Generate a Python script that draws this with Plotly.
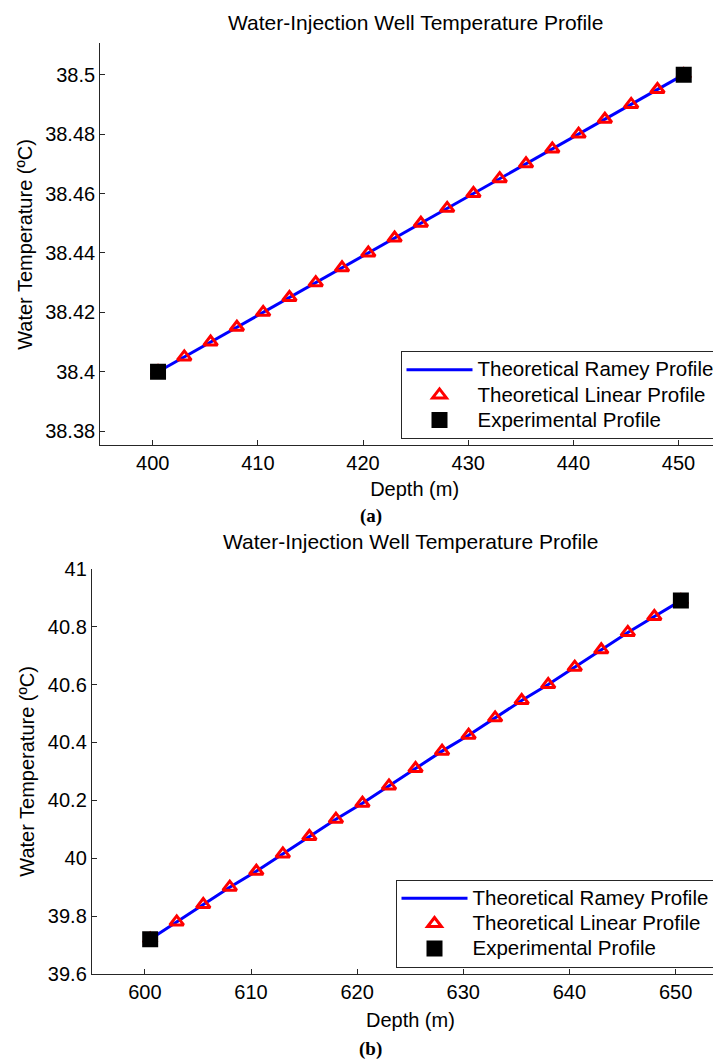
import plotly.graph_objects as go

W, H = 721, 1059

# ---------------- data (a) ----------------
depth_a = [400.5, 403, 405.5, 408, 410.5, 413, 415.5, 418, 420.5, 423, 425.5,
           428, 430.5, 433, 435.5, 438, 440.5, 443, 445.5, 448, 450.5]
ramey_a = [38.400, 38.405, 38.410, 38.415, 38.420, 38.425, 38.430, 38.435, 38.440,
           38.445, 38.450, 38.455, 38.460, 38.465, 38.470, 38.475, 38.480, 38.485,
           38.490, 38.495, 38.500]
linear_a = [38.400, 38.405, 38.410, 38.415, 38.420, 38.425, 38.430, 38.435, 38.440,
            38.445, 38.450, 38.455, 38.460, 38.465, 38.470, 38.475, 38.480, 38.485,
            38.490, 38.495, 38.500]
exp_depth_a = [400.5, 450.5]
exp_temp_a = [38.40, 38.50]

# ---------------- data (b) ----------------
depth_b = [600.5, 603, 605.5, 608, 610.5, 613, 615.5, 618, 620.5, 623, 625.5,
           628, 630.5, 633, 635.5, 638, 640.5, 643, 645.5, 648, 650.5]
ramey_b = [39.720, 39.780, 39.840, 39.900, 39.955, 40.015, 40.075, 40.135, 40.190,
           40.250, 40.310, 40.370, 40.425, 40.485, 40.545, 40.600, 40.660, 40.720,
           40.780, 40.835, 40.890]
linear_b = [39.720, 39.780, 39.840, 39.900, 39.955, 40.015, 40.075, 40.135, 40.190,
            40.250, 40.310, 40.370, 40.425, 40.485, 40.545, 40.600, 40.660, 40.720,
            40.780, 40.835, 40.890]
exp_depth_b = [600.5, 650.5]
exp_temp_b = [39.72, 40.89]

titles = ["Water-Injection Well Temperature Profile",
          "Water-Injection Well Temperature Profile"]
captions = ["(a)", "(b)"]
names = ["Theoretical Ramey Profile", "Theoretical Linear Profile", "Experimental Profile"]

FONT = "Liberation Sans, Arial, sans-serif"
AX = "#262626"

# window position (px) -> layout position (empirical page offset/scale)
def lx(p):
    return p - 9.5

def ly(p):
    return (p - 17.5) / 0.98

def px_x(p):
    return lx(p) / W

def px_y(p):
    return 1 - ly(p) / H

def leg_name(s):
    return '<span style="font-size:20.5px">' + s + '</span>'

fig = go.Figure()

def add_panel(xa, ya, leg, dep, ramey, lin, edep, etemp):
    fig.add_trace(go.Scatter(x=dep, y=ramey, mode="lines", name=leg_name(names[0]),
                             line=dict(color="#0000FF", width=3),
                             xaxis=xa, yaxis=ya, legend=leg))
    fig.add_trace(go.Scatter(x=dep, y=lin, mode="markers", name=leg_name(names[1]),
                             marker=dict(symbol="triangle-up-open", size=12, color="#FF0000",
                                         line=dict(width=3, color="#FF0000")),
                             xaxis=xa, yaxis=ya, legend=leg))
    fig.add_trace(go.Scatter(x=edep, y=etemp, mode="markers", name=leg_name(names[2]),
                             marker=dict(symbol="square", size=16, color="#000000"),
                             xaxis=xa, yaxis=ya, legend=leg))

add_panel("x", "y", "legend", depth_a, ramey_a, linear_a, exp_depth_a, exp_temp_a)
add_panel("x2", "y2", "legend2", depth_b, ramey_b, linear_b, exp_depth_b, exp_temp_b)

tickfont = dict(family=FONT, size=20, color="#000000")
base = dict(showline=True, linecolor=AX, linewidth=1,
            ticks="inside", ticklen=5, tickwidth=1, tickcolor=AX,
            showgrid=False, zeroline=False, tickfont=tickfont)

xr_a = [395, 395 + (W - lx(101.7)) / 10.514]
xr_b = [595, 595 + (W - lx(93.3)) / 10.614]

legend_common = dict(xanchor="left", yanchor="top",
                     bgcolor="white", bordercolor=AX, borderwidth=1,
                     font=dict(family=FONT, size=17, color="#000000"),
                     itemwidth=66, tracegroupgap=0)

fig.update_layout(
    width=W, height=H,
    margin=dict(l=0, r=0, t=0, b=0),
    paper_bgcolor="white", plot_bgcolor="white",
    font=dict(family=FONT, color="#000000"),
    xaxis=dict(domain=[px_x(101.7), 1], range=xr_a, dtick=10, tick0=400,
               anchor="y", title=dict(text="Depth (m)", font=dict(size=20), standoff=8),
               **base),
    xaxis3=dict(overlaying="x", matches="x", side="top", anchor="y",
                showticklabels=False, dtick=10, tick0=400, range=xr_a, **base),
    yaxis=dict(domain=[px_y(444.3), px_y(42)], range=[38.3752, 38.5105], dtick=0.02,
               tick0=38.38, anchor="x",
               title=dict(text="Water Temperature (ºC)", font=dict(size=20), standoff=7),
               **base),
    xaxis2=dict(domain=[px_x(93.3), 1], range=xr_b, dtick=10, tick0=600,
                anchor="y2", title=dict(text="Depth (m)", font=dict(size=20), standoff=10),
                **base),
    xaxis4=dict(overlaying="x2", matches="x2", side="top", anchor="y2",
                showticklabels=False, dtick=10, tick0=600, range=xr_b, **base),
    yaxis2=dict(domain=[px_y(973.3), px_y(567.7)], range=[39.6, 41], dtick=0.2,
                tick0=39.6, anchor="x2",
                title=dict(text="Water Temperature (ºC)", font=dict(size=20), standoff=7),
                **base),
    legend=dict(x=px_x(402), y=px_y(350), **legend_common),
    legend2=dict(x=px_x(397), y=px_y(879), **legend_common),
    showlegend=True,
)

# chart titles and sub-figure captions
fig.add_annotation(text=titles[0], x=px_x(416.6), y=1 - 4 / H, xref="paper", yref="paper",
                   showarrow=False, font=dict(family=FONT, size=21, color="#000000"),
                   xanchor="center", yanchor="middle")
fig.add_annotation(text=titles[1], x=px_x(411.7), y=px_y(540), xref="paper", yref="paper",
                   showarrow=False, font=dict(family=FONT, size=21, color="#000000"),
                   xanchor="center", yanchor="middle")
fig.add_annotation(text="<b>" + captions[0] + "</b>", x=px_x(372), y=px_y(515),
                   xref="paper", yref="paper", showarrow=False,
                   font=dict(family="Liberation Serif, serif", size=19, color="#000000"),
                   xanchor="center", yanchor="middle")
fig.add_annotation(text="<b>" + captions[1] + "</b>", x=px_x(372), y=px_y(1048),
                   xref="paper", yref="paper", showarrow=False,
                   font=dict(family="Liberation Serif, serif", size=19, color="#000000"),
                   xanchor="center", yanchor="middle")

fig.write_html("out.html")
